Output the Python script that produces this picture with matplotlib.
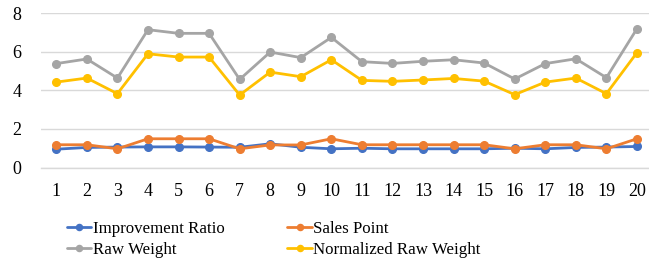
import matplotlib
matplotlib.use("Agg")
import matplotlib.pyplot as plt

categories = list(range(1, 21))
improvement_ratio = [0.95, 1.04, 1.06, 1.07, 1.07, 1.06, 1.05, 1.23, 1.05, 0.97,
                     1.00, 0.97, 0.97, 0.97, 0.97, 1.00, 0.97, 1.04, 1.06, 1.09]
sales_point = [1.18, 1.18, 0.97, 1.49, 1.49, 1.49, 0.97, 1.17, 1.17, 1.49,
               1.18, 1.18, 1.18, 1.18, 1.18, 0.97, 1.18, 1.18, 0.97, 1.49]
raw_weight = [5.39, 5.63, 4.64, 7.15, 6.96, 6.96, 4.57, 5.99, 5.70, 6.75,
              5.49, 5.40, 5.51, 5.59, 5.42, 4.59, 5.39, 5.64, 4.66, 7.20]
normalized_raw_weight = [4.43, 4.64, 3.83, 5.90, 5.73, 5.73, 3.76, 4.95, 4.71, 5.59,
                         4.52, 4.47, 4.54, 4.62, 4.48, 3.78, 4.43, 4.64, 3.83, 5.96]
series_names = ["Improvement Ratio", "Sales Point", "Raw Weight", "Normalized Raw Weight"]
colors = ["#4472C4", "#ED7D31", "#A5A5A5", "#FFC000"]

plt.rcParams['font.family'] = ['Liberation Serif', 'DejaVu Serif']

fig = plt.figure(figsize=(6.49, 2.68), dpi=100)
ax = fig.add_axes([41/649, 1 - 167.5/268, 1 - 41/649 + 0.005, (167.5 - 13.3)/268])

handles = []
for vals, name, c in zip([improvement_ratio, sales_point, raw_weight, normalized_raw_weight],
                         series_names, colors):
    h, = ax.plot(categories, vals, color=c, lw=2.0, marker='o', markersize=5.5, label=name,
                 solid_capstyle='round')
    handles.append(h)

ax.set_xlim(0.5, 20.5)
ax.set_ylim(0, 8)
ax.set_yticks([0, 2, 4, 6, 8])
ax.set_xticks(categories)
ax.set_xticklabels([str(c) for c in categories])
ax.grid(axis='y', color='#D9D9D9', lw=1.0)
ax.set_axisbelow(True)
for s in ['top', 'right', 'left']:
    ax.spines[s].set_visible(False)
ax.spines['bottom'].set_color('#D9D9D9')
ax.spines['bottom'].set_linewidth(1.0)
ax.tick_params(axis='both', length=0, labelsize=13, colors='#000000')
ax.tick_params(axis='y', pad=14)
ax.tick_params(axis='x', pad=11)

order = [0, 2, 1, 3]
leg = fig.legend([handles[i] for i in order], [series_names[i] for i in order],
                 loc='lower left', bbox_to_anchor=(0.079, -0.02), ncol=2, frameon=False,
                 fontsize=12.2, handlelength=1.45, handletextpad=0.1, columnspacing=3.7,
                 labelspacing=0.3, markerscale=0.8)

fig.savefig("out.png", dpi=100)
